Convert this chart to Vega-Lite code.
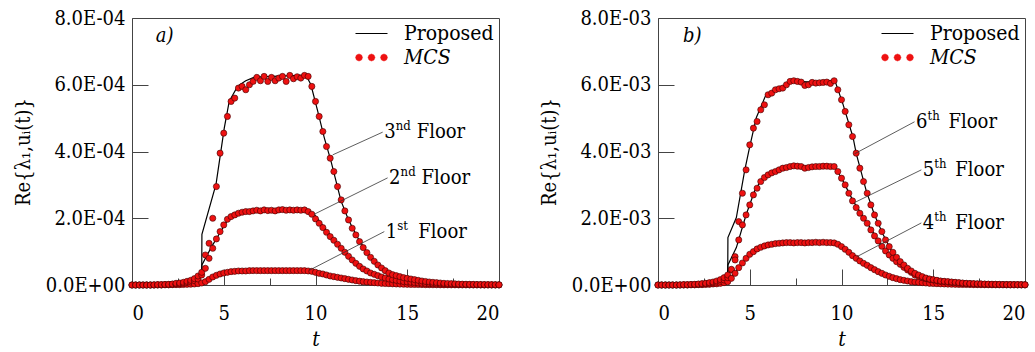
{
"$schema": "https://vega.github.io/schema/vega-lite/v6.json",
"background": "white",
"padding": {"left": 12, "top": 7, "right": 0, "bottom": 0},
"bounds": "flush",
"spacing": 159,
"config": {
  "font": "DejaVu Serif Condensed, DejaVu Serif",
  "view": {"stroke": "#444", "strokeWidth": 1},
  "axis": {"labelFont": "DejaVu Serif Condensed, DejaVu Serif", "labelFontSize": 20, "labelColor": "black", "titleFont": "DejaVu Serif Condensed, DejaVu Serif", "titleFontSize": 20, "titleFontWeight": "normal", "titleColor": "black", "grid": false, "domain": false, "tickColor": "#444", "tickWidth": 1},
  "legend": {"title": null, "orient": "top-right", "offset": 5, "labelFont": "DejaVu Serif Condensed, DejaVu Serif", "labelFontSize": 21, "labelColor": "black", "symbolSize": 256, "labelOffset": 22, "rowPadding": 0, "padding": 0, "layout": {"top-right": {"direction": "vertical", "margin": 3}}},
  "text": {"font": "DejaVu Serif Condensed, DejaVu Serif", "color": "black"}
},
"datasets": {
"mcsA": [
{"t":0,"f1":0,"f2":0,"f3":0},{"t":0.2,"f1":0,"f2":0,"f3":0},{"t":0.4,"f1":0,"f2":0,"f3":0},{"t":0.6,"f1":0,"f2":0,"f3":0},{"t":0.8,"f1":0,"f2":0,"f3":0},{"t":1.0,"f1":0,"f2":0,"f3":0},
{"t":1.2,"f1":0,"f2":0,"f3":0.005e-4},{"t":1.4,"f1":0,"f2":0.005e-4,"f3":0.01e-4},{"t":1.6,"f1":0,"f2":0.005e-4,"f3":0.01e-4},{"t":1.8,"f1":0.005e-4,"f2":0.01e-4,"f3":0.015e-4},
{"t":2.0,"f1":0.005e-4,"f2":0.01e-4,"f3":0.02e-4},{"t":2.2,"f1":0.01e-4,"f2":0.02e-4,"f3":0.03e-4},{"t":2.4,"f1":0.01e-4,"f2":0.03e-4,"f3":0.05e-4},{"t":2.6,"f1":0.01e-4,"f2":0.04e-4,"f3":0.06e-4},
{"t":2.8,"f1":0.015e-4,"f2":0.05e-4,"f3":0.08e-4},{"t":3.0,"f1":0.02e-4,"f2":0.07e-4,"f3":0.11e-4},{"t":3.2,"f1":0.025e-4,"f2":0.09e-4,"f3":0.14e-4},{"t":3.4,"f1":0.03e-4,"f2":0.13e-4,"f3":0.19e-4},
{"t":3.6,"f1":0.04e-4,"f2":0.18e-4,"f3":0.27e-4},{"t":3.8,"f1":0.06e-4,"f2":0.3e-4,"f3":0.38e-4},{"t":4.0,"f1":0.1e-4,"f2":0.5e-4,"f3":0.9e-4},{"t":4.2,"f1":0.17e-4,"f2":0.8e-4,"f3":1.25e-4},
{"t":4.4,"f1":0.24e-4,"f2":1.1e-4,"f3":2.0e-4},{"t":4.6,"f1":0.29e-4,"f2":1.38e-4,"f3":2.95e-4},{"t":4.8,"f1":0.33e-4,"f2":1.6e-4,"f3":3.95e-4},{"t":5.0,"f1":0.36e-4,"f2":1.8e-4,"f3":4.55e-4},
{"t":5.2,"f1":0.38e-4,"f2":1.97e-4,"f3":5.05e-4},{"t":5.4,"f1":0.4e-4,"f2":2.05e-4,"f3":5.5e-4},{"t":5.6,"f1":0.41e-4,"f2":2.1e-4,"f3":5.6e-4},{"t":5.8,"f1":0.42e-4,"f2":2.15e-4,"f3":5.9e-4},
{"t":6.0,"f1":0.42e-4,"f2":2.18e-4,"f3":5.95e-4},{"t":6.2,"f1":0.42e-4,"f2":2.2e-4,"f3":5.85e-4},{"t":6.4,"f1":0.43e-4,"f2":2.2e-4,"f3":6.0e-4},{"t":6.6,"f1":0.43e-4,"f2":2.22e-4,"f3":6.1e-4},
{"t":6.8,"f1":0.43e-4,"f2":2.24e-4,"f3":6.22e-4},{"t":7.0,"f1":0.43e-4,"f2":2.22e-4,"f3":6.12e-4},{"t":7.2,"f1":0.43e-4,"f2":2.25e-4,"f3":6.25e-4},{"t":7.4,"f1":0.43e-4,"f2":2.23e-4,"f3":6.1e-4},
{"t":7.6,"f1":0.43e-4,"f2":2.24e-4,"f3":6.22e-4},{"t":7.8,"f1":0.43e-4,"f2":2.22e-4,"f3":6.12e-4},{"t":8.0,"f1":0.43e-4,"f2":2.25e-4,"f3":6.2e-4},{"t":8.2,"f1":0.43e-4,"f2":2.26e-4,"f3":6.25e-4},
{"t":8.4,"f1":0.43e-4,"f2":2.24e-4,"f3":6.1e-4},{"t":8.6,"f1":0.43e-4,"f2":2.25e-4,"f3":6.28e-4},{"t":8.8,"f1":0.43e-4,"f2":2.24e-4,"f3":6.18e-4},{"t":9.0,"f1":0.43e-4,"f2":2.25e-4,"f3":6.24e-4},
{"t":9.2,"f1":0.43e-4,"f2":2.24e-4,"f3":6.2e-4},{"t":9.4,"f1":0.43e-4,"f2":2.25e-4,"f3":6.28e-4},{"t":9.6,"f1":0.42e-4,"f2":2.2e-4,"f3":6.25e-4},{"t":9.8,"f1":0.41e-4,"f2":2.12e-4,"f3":5.95e-4},
{"t":10.0,"f1":0.38e-4,"f2":1.98e-4,"f3":5.5e-4},{"t":10.2,"f1":0.35e-4,"f2":1.85e-4,"f3":5.05e-4},{"t":10.4,"f1":0.33e-4,"f2":1.72e-4,"f3":4.6e-4},{"t":10.6,"f1":0.3e-4,"f2":1.58e-4,"f3":4.15e-4},
{"t":10.8,"f1":0.27e-4,"f2":1.45e-4,"f3":3.8e-4},{"t":11.0,"f1":0.25e-4,"f2":1.34e-4,"f3":3.4e-4},{"t":11.2,"f1":0.23e-4,"f2":1.22e-4,"f3":2.95e-4},{"t":11.4,"f1":0.21e-4,"f2":1.1e-4,"f3":2.55e-4},
{"t":11.6,"f1":0.19e-4,"f2":0.98e-4,"f3":2.22e-4},{"t":11.8,"f1":0.17e-4,"f2":0.86e-4,"f3":1.95e-4},{"t":12.0,"f1":0.15e-4,"f2":0.75e-4,"f3":1.7e-4},{"t":12.2,"f1":0.13e-4,"f2":0.65e-4,"f3":1.5e-4},
{"t":12.4,"f1":0.115e-4,"f2":0.56e-4,"f3":1.3e-4},{"t":12.6,"f1":0.1e-4,"f2":0.48e-4,"f3":1.12e-4},{"t":12.8,"f1":0.09e-4,"f2":0.42e-4,"f3":0.97e-4},{"t":13.0,"f1":0.08e-4,"f2":0.36e-4,"f3":0.83e-4},
{"t":13.2,"f1":0.07e-4,"f2":0.32e-4,"f3":0.71e-4},{"t":13.4,"f1":0.06e-4,"f2":0.28e-4,"f3":0.6e-4},{"t":13.6,"f1":0.05e-4,"f2":0.24e-4,"f3":0.51e-4},{"t":13.8,"f1":0.045e-4,"f2":0.21e-4,"f3":0.43e-4},
{"t":14.0,"f1":0.04e-4,"f2":0.18e-4,"f3":0.36e-4},{"t":14.2,"f1":0.035e-4,"f2":0.16e-4,"f3":0.31e-4},{"t":14.4,"f1":0.03e-4,"f2":0.14e-4,"f3":0.28e-4},{"t":14.6,"f1":0.027e-4,"f2":0.12e-4,"f3":0.25e-4},
{"t":14.8,"f1":0.024e-4,"f2":0.1e-4,"f3":0.22e-4},{"t":15.0,"f1":0.02e-4,"f2":0.09e-4,"f3":0.2e-4},{"t":15.2,"f1":0.018e-4,"f2":0.08e-4,"f3":0.18e-4},{"t":15.4,"f1":0.016e-4,"f2":0.07e-4,"f3":0.16e-4},
{"t":15.6,"f1":0.014e-4,"f2":0.06e-4,"f3":0.14e-4},{"t":15.8,"f1":0.012e-4,"f2":0.05e-4,"f3":0.12e-4},{"t":16.0,"f1":0.01e-4,"f2":0.045e-4,"f3":0.105e-4},{"t":16.2,"f1":0.009e-4,"f2":0.04e-4,"f3":0.09e-4},
{"t":16.4,"f1":0.008e-4,"f2":0.035e-4,"f3":0.08e-4},{"t":16.6,"f1":0.007e-4,"f2":0.03e-4,"f3":0.07e-4},{"t":16.8,"f1":0.006e-4,"f2":0.027e-4,"f3":0.06e-4},{"t":17.0,"f1":0.005e-4,"f2":0.024e-4,"f3":0.05e-4},
{"t":17.2,"f1":0.005e-4,"f2":0.02e-4,"f3":0.045e-4},{"t":17.4,"f1":0.004e-4,"f2":0.018e-4,"f3":0.04e-4},{"t":17.6,"f1":0.004e-4,"f2":0.016e-4,"f3":0.035e-4},{"t":17.8,"f1":0.003e-4,"f2":0.014e-4,"f3":0.03e-4},
{"t":18.0,"f1":0.003e-4,"f2":0.012e-4,"f3":0.025e-4},{"t":18.2,"f1":0.003e-4,"f2":0.01e-4,"f3":0.022e-4},{"t":18.4,"f1":0.002e-4,"f2":0.009e-4,"f3":0.02e-4},{"t":18.6,"f1":0.002e-4,"f2":0.008e-4,"f3":0.018e-4},
{"t":18.8,"f1":0.002e-4,"f2":0.007e-4,"f3":0.016e-4},{"t":19.0,"f1":0.002e-4,"f2":0.006e-4,"f3":0.014e-4},{"t":19.2,"f1":0.001e-4,"f2":0.005e-4,"f3":0.012e-4},{"t":19.4,"f1":0.001e-4,"f2":0.005e-4,"f3":0.01e-4},
{"t":19.6,"f1":0.001e-4,"f2":0.004e-4,"f3":0.009e-4},{"t":19.8,"f1":0.001e-4,"f2":0.004e-4,"f3":0.008e-4},{"t":20.0,"f1":0.001e-4,"f2":0.003e-4,"f3":0.007e-4}
],
"mcsB": [
{"t":0,"f4":0,"f5":0,"f6":0},{"t":0.2,"f4":0,"f5":0,"f6":0},{"t":0.4,"f4":0,"f5":0,"f6":0},{"t":0.6,"f4":0,"f5":0,"f6":0},{"t":0.8,"f4":0,"f5":0,"f6":0},{"t":1.0,"f4":0,"f5":0,"f6":0},
{"t":1.2,"f4":0,"f5":0,"f6":0.005e-3},{"t":1.4,"f4":0,"f5":0.005e-3,"f6":0.01e-3},{"t":1.6,"f4":0,"f5":0.005e-3,"f6":0.01e-3},{"t":1.8,"f4":0.005e-3,"f5":0.01e-3,"f6":0.015e-3},
{"t":2.0,"f4":0.005e-3,"f5":0.01e-3,"f6":0.02e-3},{"t":2.2,"f4":0.01e-3,"f5":0.02e-3,"f6":0.03e-3},{"t":2.4,"f4":0.01e-3,"f5":0.03e-3,"f6":0.04e-3},{"t":2.6,"f4":0.015e-3,"f5":0.04e-3,"f6":0.05e-3},
{"t":2.8,"f4":0.02e-3,"f5":0.05e-3,"f6":0.07e-3},{"t":3.0,"f4":0.03e-3,"f5":0.06e-3,"f6":0.09e-3},{"t":3.2,"f4":0.035e-3,"f5":0.08e-3,"f6":0.12e-3},{"t":3.4,"f4":0.05e-3,"f5":0.11e-3,"f6":0.16e-3},
{"t":3.6,"f4":0.07e-3,"f5":0.15e-3,"f6":0.22e-3},{"t":3.8,"f4":0.1e-3,"f5":0.22e-3,"f6":0.3e-3},{"t":4.0,"f4":0.2e-3,"f5":0.45e-3,"f6":0.47e-3},{"t":4.2,"f4":0.35e-3,"f5":0.85e-3,"f6":0.75e-3},
{"t":4.4,"f4":0.52e-3,"f5":1.35e-3,"f6":1.9e-3},{"t":4.6,"f4":0.66e-3,"f5":1.8e-3,"f6":2.75e-3},{"t":4.8,"f4":0.8e-3,"f5":2.1e-3,"f6":3.45e-3},{"t":5.0,"f4":0.92e-3,"f5":2.4e-3,"f6":4.2e-3},
{"t":5.2,"f4":1.0e-3,"f5":2.7e-3,"f6":4.7e-3},{"t":5.4,"f4":1.08e-3,"f5":2.9e-3,"f6":4.9e-3},{"t":5.6,"f4":1.13e-3,"f5":3.1e-3,"f6":5.25e-3},{"t":5.8,"f4":1.17e-3,"f5":3.22e-3,"f6":5.4e-3},
{"t":6.0,"f4":1.2e-3,"f5":3.3e-3,"f6":5.7e-3},{"t":6.2,"f4":1.22e-3,"f5":3.36e-3,"f6":5.75e-3},{"t":6.4,"f4":1.24e-3,"f5":3.4e-3,"f6":5.85e-3},{"t":6.6,"f4":1.25e-3,"f5":3.45e-3,"f6":5.88e-3},
{"t":6.8,"f4":1.26e-3,"f5":3.5e-3,"f6":5.9e-3},{"t":7.0,"f4":1.27e-3,"f5":3.52e-3,"f6":6.0e-3},{"t":7.2,"f4":1.27e-3,"f5":3.55e-3,"f6":6.1e-3},{"t":7.4,"f4":1.26e-3,"f5":3.57e-3,"f6":6.12e-3},
{"t":7.6,"f4":1.27e-3,"f5":3.56e-3,"f6":6.1e-3},{"t":7.8,"f4":1.27e-3,"f5":3.55e-3,"f6":6.08e-3},{"t":8.0,"f4":1.26e-3,"f5":3.5e-3,"f6":5.98e-3},{"t":8.2,"f4":1.27e-3,"f5":3.52e-3,"f6":6.0e-3},
{"t":8.4,"f4":1.27e-3,"f5":3.54e-3,"f6":6.07e-3},{"t":8.6,"f4":1.28e-3,"f5":3.55e-3,"f6":6.05e-3},{"t":8.8,"f4":1.27e-3,"f5":3.55e-3,"f6":6.06e-3},{"t":9.0,"f4":1.28e-3,"f5":3.56e-3,"f6":6.07e-3},
{"t":9.2,"f4":1.27e-3,"f5":3.56e-3,"f6":6.08e-3},{"t":9.4,"f4":1.27e-3,"f5":3.55e-3,"f6":6.04e-3},{"t":9.6,"f4":1.26e-3,"f5":3.55e-3,"f6":6.12e-3},{"t":9.8,"f4":1.22e-3,"f5":3.4e-3,"f6":5.85e-3},
{"t":10.0,"f4":1.15e-3,"f5":3.2e-3,"f6":5.55e-3},{"t":10.2,"f4":1.07e-3,"f5":3.0e-3,"f6":5.2e-3},{"t":10.4,"f4":0.98e-3,"f5":2.75e-3,"f6":4.8e-3},{"t":10.6,"f4":0.88e-3,"f5":2.52e-3,"f6":4.45e-3},
{"t":10.8,"f4":0.8e-3,"f5":2.32e-3,"f6":3.95e-3},{"t":11.0,"f4":0.72e-3,"f5":2.15e-3,"f6":3.5e-3},{"t":11.2,"f4":0.65e-3,"f5":2.0e-3,"f6":3.1e-3},{"t":11.4,"f4":0.59e-3,"f5":1.85e-3,"f6":2.75e-3},
{"t":11.6,"f4":0.52e-3,"f5":1.65e-3,"f6":2.4e-3},{"t":11.8,"f4":0.46e-3,"f5":1.47e-3,"f6":2.1e-3},{"t":12.0,"f4":0.4e-3,"f5":1.32e-3,"f6":1.85e-3},{"t":12.2,"f4":0.35e-3,"f5":1.16e-3,"f6":1.6e-3},
{"t":12.4,"f4":0.3e-3,"f5":1.02e-3,"f6":1.35e-3},{"t":12.6,"f4":0.26e-3,"f5":0.9e-3,"f6":1.15e-3},{"t":12.8,"f4":0.22e-3,"f5":0.8e-3,"f6":0.98e-3},{"t":13.0,"f4":0.19e-3,"f5":0.7e-3,"f6":0.83e-3},
{"t":13.2,"f4":0.16e-3,"f5":0.62e-3,"f6":0.7e-3},{"t":13.4,"f4":0.14e-3,"f5":0.53e-3,"f6":0.6e-3},{"t":13.6,"f4":0.12e-3,"f5":0.45e-3,"f6":0.5e-3},{"t":13.8,"f4":0.1e-3,"f5":0.38e-3,"f6":0.42e-3},
{"t":14.0,"f4":0.09e-3,"f5":0.3e-3,"f6":0.35e-3},{"t":14.2,"f4":0.08e-3,"f5":0.26e-3,"f6":0.3e-3},{"t":14.4,"f4":0.07e-3,"f5":0.22e-3,"f6":0.25e-3},{"t":14.6,"f4":0.06e-3,"f5":0.19e-3,"f6":0.21e-3},
{"t":14.8,"f4":0.05e-3,"f5":0.17e-3,"f6":0.18e-3},{"t":15.0,"f4":0.045e-3,"f5":0.15e-3,"f6":0.16e-3},{"t":15.2,"f4":0.04e-3,"f5":0.13e-3,"f6":0.14e-3},{"t":15.4,"f4":0.035e-3,"f5":0.11e-3,"f6":0.12e-3},
{"t":15.6,"f4":0.03e-3,"f5":0.1e-3,"f6":0.11e-3},{"t":15.8,"f4":0.027e-3,"f5":0.09e-3,"f6":0.1e-3},{"t":16.0,"f4":0.024e-3,"f5":0.08e-3,"f6":0.09e-3},{"t":16.2,"f4":0.021e-3,"f5":0.07e-3,"f6":0.08e-3},
{"t":16.4,"f4":0.018e-3,"f5":0.06e-3,"f6":0.07e-3},{"t":16.6,"f4":0.016e-3,"f5":0.05e-3,"f6":0.06e-3},{"t":16.8,"f4":0.014e-3,"f5":0.045e-3,"f6":0.05e-3},{"t":17.0,"f4":0.012e-3,"f5":0.04e-3,"f6":0.045e-3},
{"t":17.2,"f4":0.011e-3,"f5":0.035e-3,"f6":0.04e-3},{"t":17.4,"f4":0.01e-3,"f5":0.03e-3,"f6":0.036e-3},{"t":17.6,"f4":0.009e-3,"f5":0.027e-3,"f6":0.032e-3},{"t":17.8,"f4":0.008e-3,"f5":0.024e-3,"f6":0.028e-3},
{"t":18.0,"f4":0.007e-3,"f5":0.021e-3,"f6":0.025e-3},{"t":18.2,"f4":0.006e-3,"f5":0.019e-3,"f6":0.022e-3},{"t":18.4,"f4":0.005e-3,"f5":0.017e-3,"f6":0.02e-3},{"t":18.6,"f4":0.005e-3,"f5":0.015e-3,"f6":0.018e-3},
{"t":18.8,"f4":0.004e-3,"f5":0.013e-3,"f6":0.016e-3},{"t":19.0,"f4":0.004e-3,"f5":0.012e-3,"f6":0.014e-3},{"t":19.2,"f4":0.003e-3,"f5":0.011e-3,"f6":0.012e-3},{"t":19.4,"f4":0.003e-3,"f5":0.01e-3,"f6":0.011e-3},
{"t":19.6,"f4":0.003e-3,"f5":0.009e-3,"f6":0.01e-3},{"t":19.8,"f4":0.002e-3,"f5":0.008e-3,"f6":0.009e-3},{"t":20.0,"f4":0.002e-3,"f5":0.007e-3,"f6":0.008e-3}
],
"lineA": [
{"f":"f1","t":0,"v":0},{"f":"f1","t":2,"v":0.005e-4},{"f":"f1","t":3,"v":0.02e-4},{"f":"f1","t":3.8,"v":0.05e-4},{"f":"f1","t":4.31,"v":0.22e-4},{"f":"f1","t":5.03,"v":0.37e-4},{"f":"f1","t":5.76,"v":0.42e-4},{"f":"f1","t":7,"v":0.43e-4},{"f":"f1","t":9.6,"v":0.43e-4},{"f":"f1","t":10.0,"v":0.39e-4},{"f":"f1","t":10.48,"v":0.32e-4},{"f":"f1","t":11.39,"v":0.21e-4},{"f":"f1","t":12.3,"v":0.12e-4},{"f":"f1","t":13.2,"v":0.07e-4},{"f":"f1","t":14,"v":0.04e-4},{"f":"f1","t":15,"v":0.02e-4},{"f":"f1","t":17,"v":0.005e-4},{"f":"f1","t":20,"v":0.001e-4},
{"f":"f2","t":0,"v":0},{"f":"f2","t":1.5,"v":0.005e-4},{"f":"f2","t":2,"v":0.01e-4},{"f":"f2","t":2.5,"v":0.035e-4},{"f":"f2","t":3,"v":0.07e-4},{"f":"f2","t":3.4,"v":0.13e-4},{"f":"f2","t":3.8,"v":0.3e-4},{"f":"f2","t":3.81,"v":0.6e-4},{"f":"f2","t":4.31,"v":1.12e-4},{"f":"f2","t":4.85,"v":1.62e-4},{"f":"f2","t":5.3,"v":2.02e-4},{"f":"f2","t":5.94,"v":2.17e-4},{"f":"f2","t":7,"v":2.23e-4},{"f":"f2","t":9.39,"v":2.25e-4},{"f":"f2","t":9.93,"v":2.12e-4},{"f":"f2","t":10.48,"v":1.72e-4},{"f":"f2","t":11.39,"v":1.1e-4},{"f":"f2","t":12.3,"v":0.61e-4},{"f":"f2","t":13.2,"v":0.32e-4},{"f":"f2","t":14.11,"v":0.17e-4},{"f":"f2","t":15,"v":0.09e-4},{"f":"f2","t":16,"v":0.045e-4},{"f":"f2","t":17,"v":0.024e-4},{"f":"f2","t":18,"v":0.012e-4},{"f":"f2","t":20,"v":0.003e-4},
{"f":"f3","t":0,"v":0},{"f":"f3","t":1.5,"v":0.01e-4},{"f":"f3","t":2,"v":0.02e-4},{"f":"f3","t":2.5,"v":0.055e-4},{"f":"f3","t":3,"v":0.11e-4},{"f":"f3","t":3.4,"v":0.19e-4},{"f":"f3","t":3.6,"v":0.27e-4},{"f":"f3","t":3.8,"v":0.4e-4},{"f":"f3","t":3.81,"v":1.52e-4},{"f":"f3","t":4.58,"v":3.02e-4},{"f":"f3","t":5.03,"v":4.71e-4},{"f":"f3","t":5.3,"v":5.51e-4},{"f":"f3","t":5.76,"v":5.96e-4},{"f":"f3","t":6.2,"v":6.12e-4},{"f":"f3","t":6.67,"v":6.23e-4},{"f":"f3","t":8,"v":6.26e-4},{"f":"f3","t":9.48,"v":6.29e-4},{"f":"f3","t":9.75,"v":6.0e-4},{"f":"f3","t":10.12,"v":5.21e-4},{"f":"f3","t":10.48,"v":4.41e-4},{"f":"f3","t":10.84,"v":3.72e-4},{"f":"f3","t":11.39,"v":2.52e-4},{"f":"f3","t":11.8,"v":1.95e-4},{"f":"f3","t":12.3,"v":1.42e-4},{"f":"f3","t":12.8,"v":0.98e-4},{"f":"f3","t":13.2,"v":0.72e-4},{"f":"f3","t":13.6,"v":0.5e-4},{"f":"f3","t":14.11,"v":0.32e-4},{"f":"f3","t":15,"v":0.2e-4},{"f":"f3","t":15.9,"v":0.12e-4},{"f":"f3","t":17,"v":0.05e-4},{"f":"f3","t":18,"v":0.025e-4},{"f":"f3","t":20,"v":0.007e-4}
],
"lineB": [
{"f":"f4","t":0,"v":0},{"f":"f4","t":2,"v":0.005e-3},{"f":"f4","t":3,"v":0.03e-3},{"f":"f4","t":3.8,"v":0.1e-3},{"f":"f4","t":3.81,"v":0.15e-3},{"f":"f4","t":4.27,"v":0.42e-3},{"f":"f4","t":4.99,"v":0.92e-3},{"f":"f4","t":5.72,"v":1.17e-3},{"f":"f4","t":6.81,"v":1.27e-3},{"f":"f4","t":9.63,"v":1.27e-3},{"f":"f4","t":10.08,"v":1.12e-3},{"f":"f4","t":10.44,"v":1.0e-3},{"f":"f4","t":11.35,"v":0.62e-3},{"f":"f4","t":11.9,"v":0.43e-3},{"f":"f4","t":12.26,"v":0.34e-3},{"f":"f4","t":13.17,"v":0.17e-3},{"f":"f4","t":14.08,"v":0.08e-3},{"f":"f4","t":15,"v":0.045e-3},{"f":"f4","t":16,"v":0.024e-3},{"f":"f4","t":18,"v":0.007e-3},{"f":"f4","t":20,"v":0.002e-3},
{"f":"f5","t":0,"v":0},{"f":"f5","t":2,"v":0.01e-3},{"f":"f5","t":3,"v":0.06e-3},{"f":"f5","t":3.5,"v":0.13e-3},{"f":"f5","t":3.8,"v":0.22e-3},{"f":"f5","t":3.81,"v":0.6e-3},{"f":"f5","t":4.27,"v":1.12e-3},{"f":"f5","t":4.81,"v":2.12e-3},{"f":"f5","t":5.27,"v":2.82e-3},{"f":"f5","t":5.72,"v":3.22e-3},{"f":"f5","t":6.45,"v":3.42e-3},{"f":"f5","t":7.54,"v":3.57e-3},{"f":"f5","t":9.63,"v":3.55e-3},{"f":"f5","t":10.08,"v":3.12e-3},{"f":"f5","t":10.63,"v":2.52e-3},{"f":"f5","t":11.35,"v":1.9e-3},{"f":"f5","t":12.26,"v":1.12e-3},{"f":"f5","t":13.17,"v":0.62e-3},{"f":"f5","t":14.08,"v":0.28e-3},{"f":"f5","t":15,"v":0.15e-3},{"f":"f5","t":16,"v":0.08e-3},{"f":"f5","t":17,"v":0.04e-3},{"f":"f5","t":18,"v":0.021e-3},{"f":"f5","t":20,"v":0.007e-3},
{"f":"f6","t":0,"v":0},{"f":"f6","t":2,"v":0.02e-3},{"f":"f6","t":3,"v":0.09e-3},{"f":"f6","t":3.5,"v":0.19e-3},{"f":"f6","t":3.8,"v":0.32e-3},{"f":"f6","t":3.81,"v":1.42e-3},{"f":"f6","t":4.27,"v":2.02e-3},{"f":"f6","t":4.72,"v":3.42e-3},{"f":"f6","t":4.99,"v":4.12e-3},{"f":"f6","t":5.36,"v":5.02e-3},{"f":"f6","t":5.9,"v":5.72e-3},{"f":"f6","t":6.81,"v":5.97e-3},{"f":"f6","t":7.54,"v":6.1e-3},{"f":"f6","t":8.5,"v":6.08e-3},{"f":"f6","t":9.63,"v":6.14e-3},{"f":"f6","t":10.08,"v":5.42e-3},{"f":"f6","t":10.63,"v":4.42e-3},{"f":"f6","t":10.81,"v":3.92e-3},{"f":"f6","t":11.35,"v":2.82e-3},{"f":"f6","t":11.8,"v":2.1e-3},{"f":"f6","t":12.26,"v":1.52e-3},{"f":"f6","t":12.7,"v":1.05e-3},{"f":"f6","t":13.17,"v":0.72e-3},{"f":"f6","t":13.6,"v":0.5e-3},{"f":"f6","t":14.08,"v":0.32e-3},{"f":"f6","t":15,"v":0.16e-3},{"f":"f6","t":15.9,"v":0.1e-3},{"f":"f6","t":17,"v":0.045e-3},{"f":"f6","t":18,"v":0.025e-3},{"f":"f6","t":20,"v":0.008e-3}
],
"annA": [
{"n":"3","s":"nd","x1":10.94,"y1":3.9e-4,"x2":13.66,"y2":4.58e-4},
{"n":"2","s":"nd","x1":9.93,"y1":2.12e-4,"x2":13.93,"y2":3.21e-4},
{"n":"1","s":"st","x1":9.66,"y1":0.44e-4,"x2":13.75,"y2":1.6e-4}
],
"annB": [
{"n":"6","s":"th","x1":10.71,"y1":3.93e-3,"x2":13.98,"y2":4.89e-3},
{"n":"5","s":"th","x1":10.71,"y1":2.47e-3,"x2":14.35,"y2":3.45e-3},
{"n":"4","s":"th","x1":10.81,"y1":0.84e-3,"x2":14.35,"y2":1.86e-3}
]
},
"hconcat": [
{
 "width": 367, "height": 267,
 "layer": [
  {"data": {"name": "lineA"}, "mark": {"type": "line", "strokeWidth": 1.2},
   "encoding": {
    "x": {"field": "t", "type": "quantitative", "scale": {"domain": [0,20], "nice": false},
      "axis": {"values": [0,2.5,5,7.5,10,12.5,15,17.5,20], "labelExpr": "datum.value % 5 === 0 ? datum.label : ''", "title": "t", "titleFontStyle": "italic", "titleFontSize": 21, "tickSize": {"condition": {"test": "datum.value % 5 === 0", "value": -16}, "value": -7}, "labelPadding": 34, "titlePadding": 5}},
    "y": {"field": "v", "type": "quantitative", "scale": {"domain": [0,0.0008], "nice": false},
      "axis": {"values": [0,0.0001,0.0002,0.0003,0.0004,0.0005,0.0006,0.0007,0.0008], "labelExpr": "round(datum.value*1e4) % 2 === 0 ? (datum.value === 0 ? '0.0E+00' : format(datum.value*1e4, '.1f') + 'E-04') : ''", "title": "Re{λ₁,uᵢ(t)}", "tickSize": {"condition": {"test": "round(datum.value*1e4) % 2 === 0", "value": -16}, "value": -8}, "labelPadding": 23, "titlePadding": 12}},
    "detail": {"field": "f", "type": "nominal"},
    "color": {"datum": "Proposed", "scale": {"domain": ["Proposed"], "range": ["black"]},
       "legend": {"symbolType": "M-2,0L2,0", "symbolStrokeColor": "black", "symbolStrokeWidth": 1.2}}}},
  {"data": {"name": "mcsA"}, "transform": [{"fold": ["f1","f2","f3"], "as": ["floor","v"]}],
   "mark": {"type": "circle", "size": 38, "stroke": "#3b0000", "strokeWidth": 0.6, "opacity": 1},
   "encoding": {
    "x": {"field": "t", "type": "quantitative"},
    "y": {"field": "v", "type": "quantitative"},
    "fill": {"datum": "MCS", "scale": {"domain": ["MCS"], "range": ["#ee1111"]},
      "legend": {"symbolType": "M-1.12,0L-1.249,0.311L-1.56,0.44L-1.871,0.311L-2,0L-1.871,-0.311L-1.56,-0.44L-1.249,-0.311ZM0.44,0L0.311,0.311L0,0.44L-0.311,0.311L-0.44,0L-0.311,-0.311L0,-0.44L0.311,-0.311ZM2,0L1.871,0.311L1.56,0.44L1.249,0.311L1.12,0L1.249,-0.311L1.56,-0.44L1.871,-0.311Z", "symbolFillColor": "#ee1111", "symbolStrokeColor": "#ee1111", "symbolStrokeWidth": 0.5, "labelFontStyle": "italic", "symbolOpacity": 1}}
   }},
  {"data": {"name": "annA"}, "mark": {"type": "rule", "color": "#333", "strokeWidth": 0.8},
   "encoding": {"x": {"field": "x1", "type": "quantitative"}, "x2": {"field": "x2"}, "y": {"field": "y1", "type": "quantitative"}, "y2": {"field": "y2"}}},
  {"data": {"name": "annA"}, "mark": {"type": "text", "align": "left", "baseline": "middle", "dx": 1.5, "fontSize": 20},
   "encoding": {"x": {"field": "x2", "type": "quantitative"}, "y": {"field": "y2", "type": "quantitative"}, "text": {"field": "n"}}},
  {"data": {"name": "annA"}, "mark": {"type": "text", "align": "left", "baseline": "middle", "dx": 13, "dy": -6, "fontSize": 13},
   "encoding": {"x": {"field": "x2", "type": "quantitative"}, "y": {"field": "y2", "type": "quantitative"}, "text": {"field": "s"}}},
  {"data": {"name": "annA"}, "mark": {"type": "text", "align": "left", "baseline": "middle", "dx": 34, "fontSize": 20},
   "encoding": {"x": {"field": "x2", "type": "quantitative"}, "y": {"field": "y2", "type": "quantitative"}, "text": {"value": "Floor"}}},
  {"data": {"values": [{"x": 1.3, "y": 7.46e-4, "l": "a)"}]}, "mark": {"type": "text", "align": "left", "baseline": "middle", "fontSize": 20, "fontStyle": "italic"},
   "encoding": {"x": {"field": "x", "type": "quantitative"}, "y": {"field": "y", "type": "quantitative"}, "text": {"field": "l"}}}
 ]
},
{
 "width": 367, "height": 267,
 "layer": [
  {"data": {"name": "lineB"}, "mark": {"type": "line", "strokeWidth": 1.2},
   "encoding": {
    "x": {"field": "t", "type": "quantitative", "scale": {"domain": [0,20], "nice": false},
      "axis": {"values": [0,2.5,5,7.5,10,12.5,15,17.5,20], "labelExpr": "datum.value % 5 === 0 ? datum.label : ''", "title": "t", "titleFontStyle": "italic", "titleFontSize": 21, "tickSize": {"condition": {"test": "datum.value % 5 === 0", "value": -16}, "value": -7}, "labelPadding": 34, "titlePadding": 5}},
    "y": {"field": "v", "type": "quantitative", "scale": {"domain": [0,0.008], "nice": false},
      "axis": {"values": [0,0.001,0.002,0.003,0.004,0.005,0.006,0.007,0.008], "labelExpr": "round(datum.value*1e3) % 2 === 0 ? (datum.value === 0 ? '0.0E+00' : format(datum.value*1e3, '.1f') + 'E-03') : ''", "title": "Re{λ₁,uᵢ(t)}", "tickSize": {"condition": {"test": "round(datum.value*1e3) % 2 === 0", "value": -16}, "value": -8}, "labelPadding": 23, "titlePadding": 12}},
    "detail": {"field": "f", "type": "nominal"},
    "color": {"datum": "Proposed", "scale": {"domain": ["Proposed"], "range": ["black"]},
       "legend": {"symbolType": "M-2,0L2,0", "symbolStrokeColor": "black", "symbolStrokeWidth": 1.2}}}},
  {"data": {"name": "mcsB"}, "transform": [{"fold": ["f4","f5","f6"], "as": ["floor","v"]}],
   "mark": {"type": "circle", "size": 38, "stroke": "#3b0000", "strokeWidth": 0.6, "opacity": 1},
   "encoding": {
    "x": {"field": "t", "type": "quantitative"},
    "y": {"field": "v", "type": "quantitative"},
    "fill": {"datum": "MCS", "scale": {"domain": ["MCS"], "range": ["#ee1111"]},
      "legend": {"symbolType": "M-1.12,0L-1.249,0.311L-1.56,0.44L-1.871,0.311L-2,0L-1.871,-0.311L-1.56,-0.44L-1.249,-0.311ZM0.44,0L0.311,0.311L0,0.44L-0.311,0.311L-0.44,0L-0.311,-0.311L0,-0.44L0.311,-0.311ZM2,0L1.871,0.311L1.56,0.44L1.249,0.311L1.12,0L1.249,-0.311L1.56,-0.44L1.871,-0.311Z", "symbolFillColor": "#ee1111", "symbolStrokeColor": "#ee1111", "symbolStrokeWidth": 0.5, "labelFontStyle": "italic", "symbolOpacity": 1}}
   }},
  {"data": {"name": "annB"}, "mark": {"type": "rule", "color": "#333", "strokeWidth": 0.8},
   "encoding": {"x": {"field": "x1", "type": "quantitative"}, "x2": {"field": "x2"}, "y": {"field": "y1", "type": "quantitative"}, "y2": {"field": "y2"}}},
  {"data": {"name": "annB"}, "mark": {"type": "text", "align": "left", "baseline": "middle", "dx": 1.5, "fontSize": 20},
   "encoding": {"x": {"field": "x2", "type": "quantitative"}, "y": {"field": "y2", "type": "quantitative"}, "text": {"field": "n"}}},
  {"data": {"name": "annB"}, "mark": {"type": "text", "align": "left", "baseline": "middle", "dx": 13, "dy": -6, "fontSize": 13},
   "encoding": {"x": {"field": "x2", "type": "quantitative"}, "y": {"field": "y2", "type": "quantitative"}, "text": {"field": "s"}}},
  {"data": {"name": "annB"}, "mark": {"type": "text", "align": "left", "baseline": "middle", "dx": 34, "fontSize": 20},
   "encoding": {"x": {"field": "x2", "type": "quantitative"}, "y": {"field": "y2", "type": "quantitative"}, "text": {"value": "Floor"}}},
  {"data": {"values": [{"x": 1.36, "y": 7.46e-3, "l": "b)"}]}, "mark": {"type": "text", "align": "left", "baseline": "middle", "fontSize": 20, "fontStyle": "italic"},
   "encoding": {"x": {"field": "x", "type": "quantitative"}, "y": {"field": "y", "type": "quantitative"}, "text": {"field": "l"}}}
 ]
}
],
"resolve": {"scale": {"color": "independent", "fill": "independent"}, "legend": {"color": "independent", "fill": "independent"}}
}
